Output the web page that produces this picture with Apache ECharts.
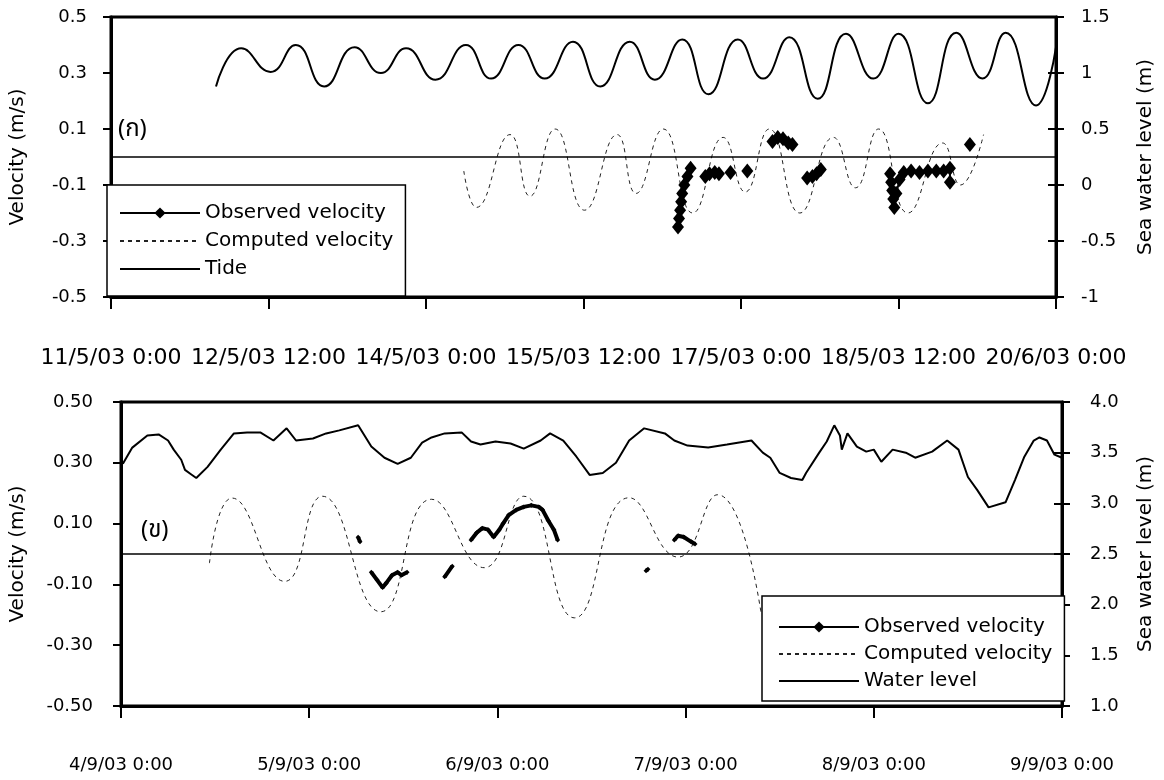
<!DOCTYPE html>
<html>
<head>
<meta charset="utf-8">
<script src="https://cdn.jsdelivr.net/npm/echarts@6/dist/echarts.min.js"></script>
<style>
  html, body { margin: 0; background: #fff; }
  #chart { width: 1164px; height: 780px; }
</style>
</head>
<body>
<div id="chart"></div>
<script>
// ---- panel (ก): x = days after 11/5/03 0:00
var topXLabels = ['11/5/03 0:00', '12/5/03 12:00', '14/5/03 0:00', '15/5/03 12:00', '17/5/03 0:00', '18/5/03 12:00', '20/6/03 0:00']
var topVelTicks = [-0.5, -0.3, -0.1, 0.1, 0.3, 0.5]
var topTide = [[1.00, 0.88], [1.24, 1.22], [1.52, 1.01], [1.76, 1.25], [2.03, 0.88], [2.32, 1.23], [2.57, 1.00],
  [2.81, 1.22], [3.09, 0.94], [3.38, 1.25], [3.62, 0.95], [3.88, 1.25], [4.13, 0.95], [4.40, 1.28], [4.66, 0.88],
  [4.94, 1.28], [5.18, 0.94], [5.44, 1.30], [5.69, 0.81], [5.97, 1.30], [6.21, 0.95], [6.46, 1.32], [6.73, 0.77],
  [7.00, 1.35], [7.26, 0.95], [7.50, 1.35], [7.78, 0.73], [8.05, 1.36], [8.30, 0.95], [8.52, 1.36], [8.81, 0.71],
  [9.00, 1.23]]
var topComputed = [[3.36, -0.05], [3.48, -0.18], [3.80, 0.08], [3.99, -0.14], [4.23, 0.10], [4.51, -0.19],
  [4.82, 0.08], [5.00, -0.13], [5.26, 0.10], [5.54, -0.20], [5.83, 0.07], [6.04, -0.125], [6.27, 0.10],
  [6.56, -0.20], [6.88, 0.07], [7.09, -0.11], [7.31, 0.10], [7.59, -0.20], [7.92, 0.05], [8.09, -0.10], [8.31, 0.08]]
var topObserved = [
  [5.40, -0.25], [5.41, -0.22], [5.42, -0.19], [5.43, -0.16], [5.44, -0.13], [5.46, -0.10], [5.49, -0.07], [5.52, -0.04], null,
  [5.66, -0.07], [5.70, -0.06], [5.75, -0.055], [5.79, -0.06], null,
  [5.90, -0.055], null, [6.06, -0.05], null,
  [6.30, 0.055], [6.35, 0.07], [6.40, 0.065], [6.45, 0.05], [6.49, 0.045], null,
  [6.63, -0.075], [6.68, -0.07], [6.72, -0.06], [6.76, -0.045], null,
  [7.42, -0.06], [7.43, -0.09], [7.44, -0.12], [7.45, -0.15], [7.46, -0.18], [7.48, -0.13], [7.51, -0.08],
  [7.55, -0.055], [7.62, -0.05], [7.70, -0.055], [7.78, -0.05], [7.86, -0.05], [7.93, -0.05], [7.99, -0.04], [7.99, -0.09], null,
  [8.18, 0.045]
]

// ---- panel (ข): x = days after 4/9/03 0:00
var botXLabels = ['4/9/03 0:00', '5/9/03 0:00', '6/9/03 0:00', '7/9/03 0:00', '8/9/03 0:00', '9/9/03 0:00']
var botVelTicks = [-0.5, -0.3, -0.1, 0.1, 0.3, 0.5]
var botWater = [[0.01, 3.39], [0.06, 3.55], [0.14, 3.67], [0.20, 3.68], [0.25, 3.62], [0.28, 3.53], [0.32, 3.43],
  [0.34, 3.33], [0.37, 3.29], [0.40, 3.25], [0.46, 3.36], [0.53, 3.53], [0.60, 3.69], [0.67, 3.70], [0.74, 3.70],
  [0.81, 3.62], [0.88, 3.74], [0.93, 3.62], [1.02, 3.64], [1.09, 3.69], [1.16, 3.72], [1.26, 3.77], [1.33, 3.56],
  [1.40, 3.45], [1.47, 3.39], [1.54, 3.45], [1.60, 3.60], [1.65, 3.65], [1.72, 3.69], [1.81, 3.70], [1.86, 3.61],
  [1.91, 3.58], [1.99, 3.61], [2.07, 3.59], [2.14, 3.54], [2.23, 3.62], [2.28, 3.69], [2.35, 3.62], [2.42, 3.46],
  [2.49, 3.28], [2.56, 3.30], [2.63, 3.40], [2.70, 3.62], [2.78, 3.74], [2.89, 3.69], [2.94, 3.62], [3.01, 3.57],
  [3.12, 3.55], [3.22, 3.58], [3.35, 3.62], [3.41, 3.50], [3.45, 3.45], [3.50, 3.30], [3.56, 3.25], [3.62, 3.23],
  [3.64, 3.30], [3.71, 3.50], [3.75, 3.61], [3.79, 3.77], [3.82, 3.67], [3.83, 3.53], [3.86, 3.69], [3.91, 3.56],
  [3.96, 3.51], [4.00, 3.53], [4.04, 3.41], [4.10, 3.53], [4.17, 3.50], [4.22, 3.45], [4.31, 3.51], [4.39, 3.62],
  [4.45, 3.53], [4.50, 3.26], [4.55, 3.13], [4.61, 2.96], [4.70, 3.01], [4.75, 3.23], [4.80, 3.46], [4.85, 3.62],
  [4.88, 3.65], [4.92, 3.62], [4.96, 3.48], [5.00, 3.45]]
var botComputed = [[0.47, -0.03], [0.59, 0.184], [0.87, -0.09], [1.07, 0.19], [1.38, -0.19], [1.65, 0.18],
  [1.93, -0.045], [2.14, 0.19], [2.41, -0.21], [2.70, 0.185], [2.96, -0.01], [3.17, 0.195], [3.40, -0.19]]
var botObserved = [
  [1.26, 0.055], [1.27, 0.04], null,
  [1.33, -0.06], [1.36, -0.085], [1.39, -0.11], [1.41, -0.095], [1.44, -0.07], [1.47, -0.06], [1.49, -0.07], [1.52, -0.06], null,
  [1.72, -0.075], [1.76, -0.04], null,
  [1.86, 0.046], [1.89, 0.07], [1.92, 0.085], [1.95, 0.08], [1.98, 0.056], [2.01, 0.08], [2.03, 0.10], [2.06, 0.128],
  [2.10, 0.145], [2.14, 0.155], [2.18, 0.16], [2.22, 0.155], [2.24, 0.145], [2.27, 0.11], [2.30, 0.08], [2.32, 0.046], null,
  [2.79, -0.055], [2.80, -0.05], null,
  [2.94, 0.046], [2.96, 0.06], [2.99, 0.056], [3.03, 0.04], [3.05, 0.033]
]

var legendNames = {
  obsA: 'Observed velocity', compA: 'Computed velocity', tide: 'Tide',
  obsB: 'Observed velocity', compB: 'Computed velocity', water: 'Water level'
}

var FONT = "'DejaVu Sans', sans-serif"
var black = '#000'

function xAxisOf(grid, max, interval, labels, fontSize, margin) {
  return {
    gridIndex: grid, type: 'value', min: 0, max: max, interval: interval,
    axisLine: { onZero: false, lineStyle: { color: black, width: 3 } },
    axisTick: { length: 12, lineStyle: { color: black, width: 2 } },
    axisLabel: {
      margin: margin, color: black, fontFamily: FONT, fontSize: fontSize,
      formatter: function (v) { return labels[Math.round(v / interval)] }
    },
    splitLine: { show: false }
  }
}

function velAxis(grid, ticks, gap, margin, digits) {
  return {
    gridIndex: grid, type: 'value', position: 'left', min: -0.5, max: 0.5,
    name: 'Velocity (m/s)', nameLocation: 'middle', nameGap: gap, nameRotate: 90,
    nameTextStyle: { color: black, fontFamily: FONT, fontSize: 20 },
    axisLine: { onZero: false, lineStyle: { color: black, width: 3 } },
    axisTick: { customValues: ticks, length: 8, lineStyle: { color: black, width: 2 } },
    axisLabel: {
      customValues: ticks, margin: margin, color: black, fontFamily: FONT, fontSize: 18,
      formatter: function (v) { return digits ? v.toFixed(digits) : String(v) }
    },
    splitLine: { show: false }
  }
}

function levelAxis(grid, min, max, gap, margin, digits, inside) {
  return {
    gridIndex: grid, type: 'value', position: 'right', min: min, max: max, interval: 0.5,
    name: inside ? '' : 'Sea water level (m)', nameLocation: 'middle', nameGap: gap, nameRotate: 90,
    nameTextStyle: { color: black, fontFamily: FONT, fontSize: 20 },
    axisLine: { show: !inside, onZero: false, lineStyle: { color: black, width: 3 } },
    axisTick: { inside: inside, length: 8, lineStyle: { color: black, width: 2 } },
    axisLabel: {
      show: !inside, margin: margin, color: black, fontFamily: FONT, fontSize: 18,
      formatter: function (v) { return digits ? v.toFixed(digits) : String(v) }
    },
    splitLine: { show: false }
  }
}

function zeroLine() {
  return {
    silent: true, symbol: ['none', 'none'], label: { show: false },
    lineStyle: { color: black, width: 1.5, type: 'solid' },
    data: [{ yAxis: 0 }]
  }
}

// legend entries: plain lines get no marker
function legendItems(names, marked) {
  return names.map(function (n) {
    return n === marked ? { name: n } : { name: n, itemStyle: { opacity: 0 } }
  })
}

function legendOf(names, marked, left, top, padding, gap) {
  return {
    orient: 'vertical', left: left, top: top, data: legendItems(names, marked), selectedMode: false,
    itemWidth: 80, itemHeight: 14, itemGap: gap, padding: padding,
    borderColor: black, borderWidth: 1.5, backgroundColor: '#fff',
    formatter: function (n) { return legendNames[n] },
    textStyle: { color: black, fontFamily: FONT, fontSize: 20 }
  }
}

var chart = echarts.init(document.getElementById('chart'))
chart.setOption({
  animation: false,
  backgroundColor: '#fff',
  grid: [
    { left: 103, top: 17, width: 957, height: 280, show: true, borderColor: black, borderWidth: 3 },
    { left: 113, top: 402, width: 952, height: 304, show: true, borderColor: black, borderWidth: 3 }
  ],
  xAxis: [
    xAxisOf(0, 9, 1.5, topXLabels, 22, 50),
    xAxisOf(1, 5, 1, botXLabels, 18, 50)
  ],
  yAxis: [
    velAxis(0, topVelTicks, 83, 24, 0),
    levelAxis(0, -1, 1.5, 80, 25, 0, false),
    levelAxis(0, -1, 1.5, 0, 0, 0, true),
    velAxis(1, botVelTicks, 93, 28, 2),
    levelAxis(1, 1, 4, 74, 28, 1, false),
    levelAxis(1, 1, 4, 0, 0, 1, true)
  ],
  legend: [
    legendOf(['obsA', 'compA', 'tide'], 'obsA', 107, 185, [18, 12, 17, 12], 8),
    legendOf(['obsB', 'compB', 'water'], 'obsB', 762, 596, [21, 12, 10, 16], 7)
  ],
  graphic: [
    { type: 'text', left: 118, top: 119, style: { text: '(ก)', fill: black, font: "24px 'Noto Sans Thai', 'DejaVu Sans', sans-serif" } },
    { type: 'text', left: 141, top: 520, style: { text: '(ข)', fill: black, font: "24px 'Noto Sans Thai', 'DejaVu Sans', sans-serif" } }
  ],
  series: [
    {
      name: 'compA', type: 'line', xAxisIndex: 0, yAxisIndex: 0, data: topComputed,
      smooth: true, showSymbol: false, symbol: 'none',
      lineStyle: { color: '#222', width: 1, type: [4, 4] }, itemStyle: { color: '#222' },
      markLine: zeroLine()
    },
    {
      name: 'tide', type: 'line', xAxisIndex: 0, yAxisIndex: 1, data: topTide,
      smooth: true, showSymbol: false, symbol: 'none',
      lineStyle: { color: black, width: 2 }, itemStyle: { color: black }
    },
    {
      name: 'obsA', type: 'line', xAxisIndex: 0, yAxisIndex: 0, data: topObserved,
      connectNulls: false, symbol: 'diamond', symbolSize: [12, 15], showSymbol: true,
      lineStyle: { color: black, width: 2 }, itemStyle: { color: black }
    },
    {
      name: 'compB', type: 'line', xAxisIndex: 1, yAxisIndex: 3, data: botComputed,
      smooth: true, showSymbol: false, symbol: 'none',
      lineStyle: { color: '#222', width: 1, type: [4, 4] }, itemStyle: { color: '#222' },
      markLine: zeroLine()
    },
    {
      name: 'water', type: 'line', xAxisIndex: 1, yAxisIndex: 4, data: botWater,
      showSymbol: false, symbol: 'none',
      lineStyle: { color: black, width: 2 }, itemStyle: { color: black }
    },
    {
      name: 'obsB', type: 'line', xAxisIndex: 1, yAxisIndex: 3, data: botObserved,
      connectNulls: false, symbol: 'diamond', symbolSize: 5, showSymbol: true,
      lineStyle: { color: black, width: 4 }, itemStyle: { color: black }
    }
  ]
})
</script>
</body>
</html>
